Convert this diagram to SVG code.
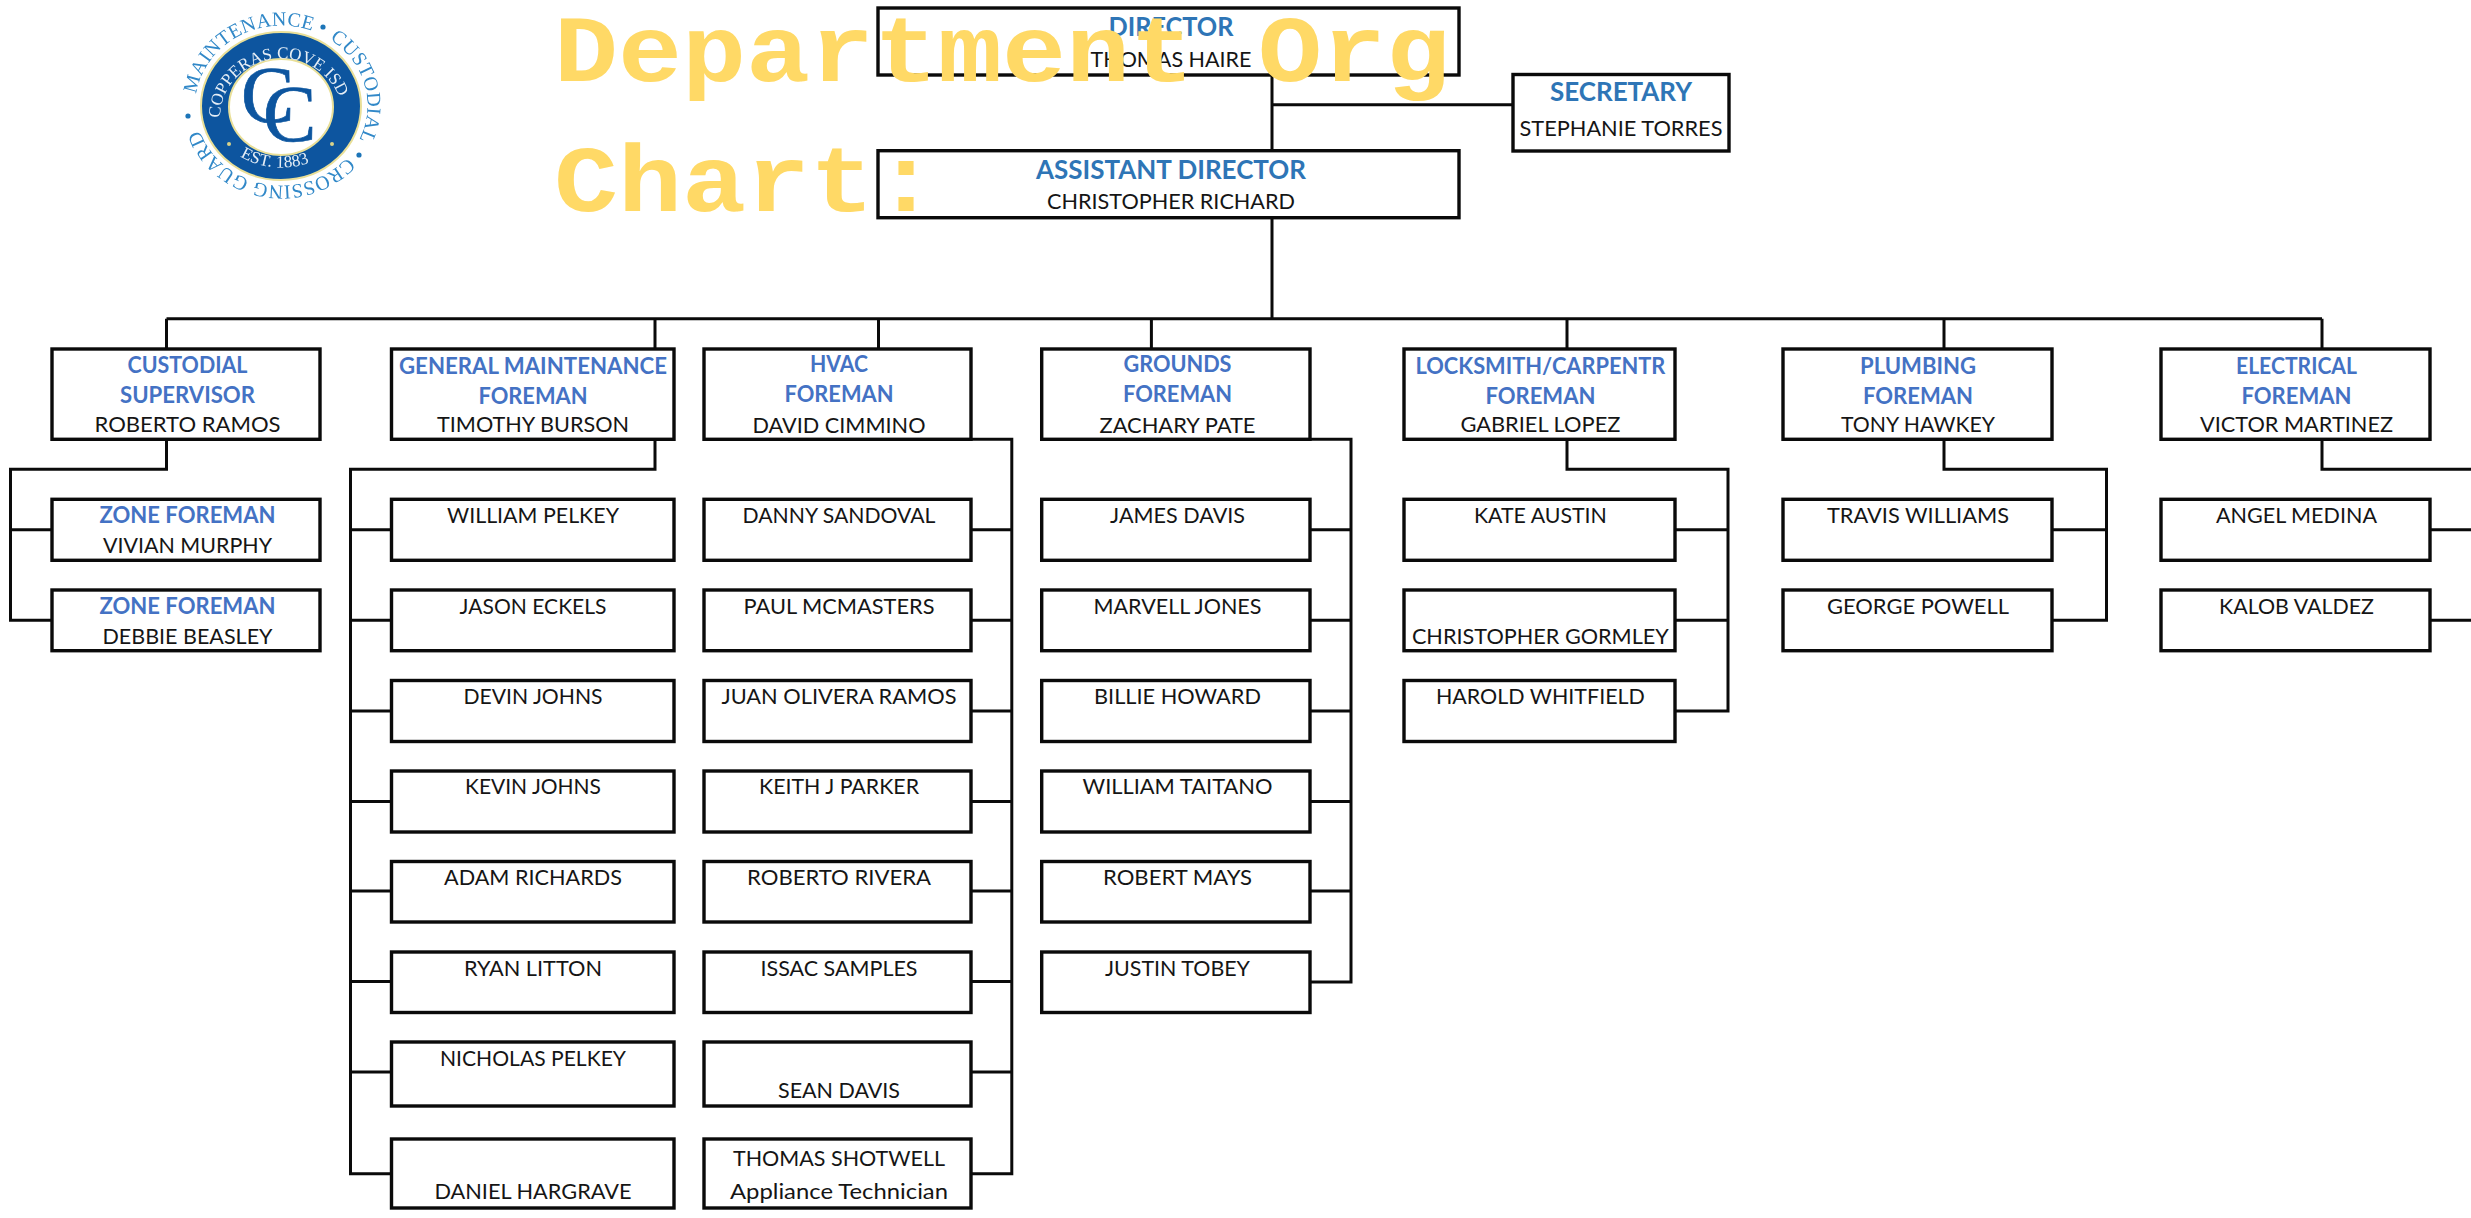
<svg xmlns="http://www.w3.org/2000/svg" width="2471" height="1218" viewBox="0 0 2471 1218">
<style>
text{font-family:"Lato","Open Sans","Liberation Sans",sans-serif;text-anchor:middle}
rect{fill:#fff;stroke:#0a0a0a;stroke-width:3.4}
#connectors path{fill:none;stroke:#0a0a0a;stroke-width:3}
.n{font-size:22px;fill:#151515}
.h{font-size:22px;font-weight:700;fill:#4472C4}
.t{font-size:26px;font-weight:700;fill:#2E75B6}
.title{font-family:"Liberation Mono","Courier New",monospace;font-size:94px;font-weight:700;fill:#FFD966;text-anchor:start}
.lo{font-family:"Liberation Serif",serif;font-size:20px;fill:#3088C8;text-anchor:start;letter-spacing:0.3px}
.li{font-family:"Liberation Serif",serif;font-size:17px;fill:#E6EEF6;text-anchor:start}
.cc{font-family:"Liberation Serif",serif;font-size:80px;fill:#0B559F;stroke:#0B559F;stroke-width:0.7;text-anchor:start}
</style>
<defs>
<path id="outerArc" pathLength="360" d="M195.5 105.5A86 80 0 1 1 367.5 105.5A86 80 0 1 1 195.5 105.5"/>
<path id="innerArc" d="M220 118A60 58 0 1 1 343 118"/>
<path id="bottomArc" d="M229 148A72 62 0 0 0 334 148"/>
<filter id="soft" x="-5%" y="-5%" width="110%" height="110%"><feGaussianBlur stdDeviation="0.55"/></filter>
</defs>
<rect x="0" y="0" width="2471" height="1218" style="fill:#fff;stroke:none"/>
<g id="logo" filter="url(#soft)">
<ellipse cx="281" cy="106" rx="80" ry="74" style="fill:#0B559F;stroke:#E9DF98;stroke-width:2"/>
<ellipse cx="281" cy="107" rx="52" ry="48" style="fill:#fff;stroke:#E9DF98;stroke-width:2"/>
<text class="lo"><textPath href="#outerArc" startOffset="8">MAINTENANCE</textPath></text>
<text class="lo"><textPath href="#outerArc" startOffset="125">CUSTODIAL</textPath></text>
<text class="lo"><textPath href="#outerArc" startOffset="219">CROSSING GUARD</textPath></text>
<circle cx="323" cy="27" r="2.6" fill="#1F75B8"/>
<circle cx="359" cy="155" r="2.6" fill="#1F75B8"/>
<circle cx="188" cy="116" r="2.6" fill="#1F75B8"/>
<text class="li"><textPath href="#innerArc" startOffset="0">COPPERAS COVE ISD</textPath></text>
<text class="li"><textPath href="#bottomArc" startOffset="14">EST. 1883</textPath></text>
<circle cx="229" cy="144" r="2" fill="#D9D28A"/>
<circle cx="332" cy="144" r="2" fill="#D9D28A"/>
<text class="cc" x="241" y="122">C</text>
<text class="cc" x="263" y="141">C</text>
</g>
<g id="connectors">
<path d="M1272 75V150.7M1272 104.7H1513M1272 217.7V318.7M166.5 318.7H2322"/>
<path d="M166.5 318.7V349M655 318.7V349M878.5 318.7V349M1151.4 318.7V349M1567 318.7V349M1944 318.7V349M2322 318.7V349"/>
<path d="M166.5 439V469.3H10.5V620.3H52M10.5 529.7H52"/>
<path d="M655 439V469.3H350.5V1173.7H391.5M350.5 529.7H391.5M350.5 620.3H391.5M350.5 710.9H391.5M350.5 801.5H391.5M350.5 891H391.5M350.5 981.5H391.5M350.5 1072H391.5"/>
<path d="M971 439.3H1011.8V1173.7H971M971 529.7H1011.8M971 620.3H1011.8M971 710.9H1011.8M971 801.5H1011.8M971 891H1011.8M971 981.5H1011.8M971 1072H1011.8"/>
<path d="M1310 439.3H1351V982H1310M1310 529.7H1351M1310 620.3H1351M1310 710.9H1351M1310 801.5H1351M1310 891H1351"/>
<path d="M1567 439V469.3H1728V710.9H1675M1675 529.7H1728M1675 620.3H1728"/>
<path d="M1944 439V469.3H2106.5V620.3H2052M2052 529.7H2106.5"/>
<path d="M2322 439V469.3H2471M2430 529.7H2471M2430 620.3H2471"/>
</g>
<g id="director"><rect x="878" y="8" width="581" height="67"/><text class="t" x="1171" y="35.7" textLength="125" lengthAdjust="spacingAndGlyphs">DIRECTOR</text><text class="n" x="1171" y="66.7" textLength="161" lengthAdjust="spacingAndGlyphs">THOMAS HAIRE</text></g>
<g id="secretary"><rect x="1513" y="74.5" width="216" height="76.5"/><text class="t" x="1621" y="100.7" textLength="142" lengthAdjust="spacingAndGlyphs">SECRETARY</text><text class="n" x="1621" y="136" textLength="203" lengthAdjust="spacingAndGlyphs">STEPHANIE TORRES</text></g>
<g id="assistant-director"><rect x="878" y="150.7" width="581" height="67"/><text class="t" x="1171" y="178.7" textLength="270" lengthAdjust="spacingAndGlyphs">ASSISTANT DIRECTOR</text><text class="n" x="1171" y="209.3" textLength="248" lengthAdjust="spacingAndGlyphs">CHRISTOPHER RICHARD</text></g>
<g id="custodial-supervisor"><rect x="52" y="349" width="268" height="90.3"/><text class="h" x="187.5" y="373" textLength="120" lengthAdjust="spacingAndGlyphs">CUSTODIAL</text><text class="h" x="187.5" y="403" textLength="135" lengthAdjust="spacingAndGlyphs">SUPERVISOR</text><text class="n" x="187.5" y="432" textLength="186" lengthAdjust="spacingAndGlyphs">ROBERTO RAMOS</text></g>
<g id="zone-foreman-1"><rect x="52" y="499.3" width="268" height="61"/><text class="h" x="187.5" y="523.3" textLength="176" lengthAdjust="spacingAndGlyphs">ZONE FOREMAN</text><text class="n" x="187.5" y="553.3" textLength="169" lengthAdjust="spacingAndGlyphs">VIVIAN MURPHY</text></g>
<g id="zone-foreman-2"><rect x="52" y="590" width="268" height="60.7"/><text class="h" x="187.5" y="613.7" textLength="176" lengthAdjust="spacingAndGlyphs">ZONE FOREMAN</text><text class="n" x="187.5" y="644" textLength="170" lengthAdjust="spacingAndGlyphs">DEBBIE BEASLEY</text></g>
<g id="general-maintenance"><rect x="391.5" y="349" width="282.5" height="90.3"/><text class="h" x="533" y="374" textLength="268" lengthAdjust="spacingAndGlyphs">GENERAL MAINTENANCE</text><text class="h" x="533" y="404" textLength="109" lengthAdjust="spacingAndGlyphs">FOREMAN</text><text class="n" x="533" y="432" textLength="192" lengthAdjust="spacingAndGlyphs">TIMOTHY BURSON</text></g>
<g id="gm-1"><rect x="391.5" y="499.3" width="282.5" height="61"/><text class="n" x="533" y="523.3" textLength="172" lengthAdjust="spacingAndGlyphs">WILLIAM PELKEY</text></g>
<g id="gm-2"><rect x="391.5" y="590" width="282.5" height="60.7"/><text class="n" x="533" y="614" textLength="147" lengthAdjust="spacingAndGlyphs">JASON ECKELS</text></g>
<g id="gm-3"><rect x="391.5" y="680.5" width="282.5" height="61"/><text class="n" x="533" y="704" textLength="139" lengthAdjust="spacingAndGlyphs">DEVIN JOHNS</text></g>
<g id="gm-4"><rect x="391.5" y="771" width="282.5" height="61"/><text class="n" x="533" y="794.3" textLength="136" lengthAdjust="spacingAndGlyphs">KEVIN JOHNS</text></g>
<g id="gm-5"><rect x="391.5" y="861.5" width="282.5" height="60.5"/><text class="n" x="533" y="885" textLength="178" lengthAdjust="spacingAndGlyphs">ADAM RICHARDS</text></g>
<g id="gm-6"><rect x="391.5" y="952" width="282.5" height="60.5"/><text class="n" x="533" y="975.5" textLength="138" lengthAdjust="spacingAndGlyphs">RYAN LITTON</text></g>
<g id="gm-7"><rect x="391.5" y="1042" width="282.5" height="64"/><text class="n" x="533" y="1065.7" textLength="186" lengthAdjust="spacingAndGlyphs">NICHOLAS PELKEY</text></g>
<g id="gm-8"><rect x="391.5" y="1139" width="282.5" height="69"/><text class="n" x="533" y="1199" textLength="197" lengthAdjust="spacingAndGlyphs">DANIEL HARGRAVE</text></g>
<g id="hvac"><rect x="704" y="349" width="267" height="90.3"/><text class="h" x="839" y="372.3" textLength="58" lengthAdjust="spacingAndGlyphs">HVAC</text><text class="h" x="839" y="402.3" textLength="109" lengthAdjust="spacingAndGlyphs">FOREMAN</text><text class="n" x="839" y="432.7" textLength="173" lengthAdjust="spacingAndGlyphs">DAVID CIMMINO</text></g>
<g id="hvac-1"><rect x="704" y="499.3" width="267" height="61"/><text class="n" x="839" y="523.3" textLength="193" lengthAdjust="spacingAndGlyphs">DANNY SANDOVAL</text></g>
<g id="hvac-2"><rect x="704" y="590" width="267" height="60.7"/><text class="n" x="839" y="614" textLength="191" lengthAdjust="spacingAndGlyphs">PAUL MCMASTERS</text></g>
<g id="hvac-3"><rect x="704" y="680.5" width="267" height="61"/><text class="n" x="839" y="704" textLength="235" lengthAdjust="spacingAndGlyphs">JUAN OLIVERA RAMOS</text></g>
<g id="hvac-4"><rect x="704" y="771" width="267" height="61"/><text class="n" x="839" y="794.3" textLength="160" lengthAdjust="spacingAndGlyphs">KEITH J PARKER</text></g>
<g id="hvac-5"><rect x="704" y="861.5" width="267" height="60.5"/><text class="n" x="839" y="885" textLength="184" lengthAdjust="spacingAndGlyphs">ROBERTO RIVERA</text></g>
<g id="hvac-6"><rect x="704" y="952" width="267" height="60.5"/><text class="n" x="839" y="975.5" textLength="157" lengthAdjust="spacingAndGlyphs">ISSAC SAMPLES</text></g>
<g id="hvac-7"><rect x="704" y="1042" width="267" height="64"/><text class="n" x="839" y="1097.7" textLength="122" lengthAdjust="spacingAndGlyphs">SEAN DAVIS</text></g>
<g id="hvac-8"><rect x="704" y="1139" width="267" height="69"/><text class="n" x="839" y="1165.7" textLength="212" lengthAdjust="spacingAndGlyphs">THOMAS SHOTWELL</text><text class="n" x="839" y="1199" textLength="218" lengthAdjust="spacingAndGlyphs">Appliance Technician</text></g>
<g id="grounds"><rect x="1041.7" y="349" width="268.3" height="90.3"/><text class="h" x="1177.5" y="372.3" textLength="108" lengthAdjust="spacingAndGlyphs">GROUNDS</text><text class="h" x="1177.5" y="402.3" textLength="109" lengthAdjust="spacingAndGlyphs">FOREMAN</text><text class="n" x="1177.5" y="432.7" textLength="156" lengthAdjust="spacingAndGlyphs">ZACHARY PATE</text></g>
<g id="grounds-1"><rect x="1041.7" y="499.3" width="268.3" height="61"/><text class="n" x="1177.5" y="523.3" textLength="135" lengthAdjust="spacingAndGlyphs">JAMES DAVIS</text></g>
<g id="grounds-2"><rect x="1041.7" y="590" width="268.3" height="60.7"/><text class="n" x="1177.5" y="614" textLength="168" lengthAdjust="spacingAndGlyphs">MARVELL JONES</text></g>
<g id="grounds-3"><rect x="1041.7" y="680.5" width="268.3" height="61"/><text class="n" x="1177.5" y="704" textLength="167" lengthAdjust="spacingAndGlyphs">BILLIE HOWARD</text></g>
<g id="grounds-4"><rect x="1041.7" y="771" width="268.3" height="61"/><text class="n" x="1177.5" y="794.3" textLength="190" lengthAdjust="spacingAndGlyphs">WILLIAM TAITANO</text></g>
<g id="grounds-5"><rect x="1041.7" y="861.5" width="268.3" height="60.5"/><text class="n" x="1177.5" y="885" textLength="149" lengthAdjust="spacingAndGlyphs">ROBERT MAYS</text></g>
<g id="grounds-6"><rect x="1041.7" y="952" width="268.3" height="60.5"/><text class="n" x="1177.5" y="975.5" textLength="145" lengthAdjust="spacingAndGlyphs">JUSTIN TOBEY</text></g>
<g id="locksmith"><rect x="1404" y="349" width="271" height="90.3"/><text class="h" x="1540.4" y="374" textLength="250" lengthAdjust="spacingAndGlyphs">LOCKSMITH/CARPENTR</text><text class="h" x="1540.4" y="404" textLength="110" lengthAdjust="spacingAndGlyphs">FOREMAN</text><text class="n" x="1540.4" y="432" textLength="160" lengthAdjust="spacingAndGlyphs">GABRIEL LOPEZ</text></g>
<g id="locksmith-1"><rect x="1404" y="499.3" width="271" height="61"/><text class="n" x="1540.4" y="523.3" textLength="133" lengthAdjust="spacingAndGlyphs">KATE AUSTIN</text></g>
<g id="locksmith-2"><rect x="1404" y="590" width="271" height="60.7"/><text class="n" x="1540.4" y="644" textLength="257" lengthAdjust="spacingAndGlyphs">CHRISTOPHER GORMLEY</text></g>
<g id="locksmith-3"><rect x="1404" y="680.5" width="271" height="61"/><text class="n" x="1540.4" y="704" textLength="209" lengthAdjust="spacingAndGlyphs">HAROLD WHITFIELD</text></g>
<g id="plumbing"><rect x="1783" y="349" width="269" height="90.3"/><text class="h" x="1918" y="374" textLength="116" lengthAdjust="spacingAndGlyphs">PLUMBING</text><text class="h" x="1918" y="404" textLength="110" lengthAdjust="spacingAndGlyphs">FOREMAN</text><text class="n" x="1918" y="432" textLength="154" lengthAdjust="spacingAndGlyphs">TONY HAWKEY</text></g>
<g id="plumbing-1"><rect x="1783" y="499.3" width="269" height="61"/><text class="n" x="1918" y="523.3" textLength="182" lengthAdjust="spacingAndGlyphs">TRAVIS WILLIAMS</text></g>
<g id="plumbing-2"><rect x="1783" y="590" width="269" height="60.7"/><text class="n" x="1918" y="614" textLength="182" lengthAdjust="spacingAndGlyphs">GEORGE POWELL</text></g>
<g id="electrical"><rect x="2161" y="349" width="269" height="90.3"/><text class="h" x="2296.5" y="374" textLength="121" lengthAdjust="spacingAndGlyphs">ELECTRICAL</text><text class="h" x="2296.5" y="404" textLength="110" lengthAdjust="spacingAndGlyphs">FOREMAN</text><text class="n" x="2296.5" y="432" textLength="193" lengthAdjust="spacingAndGlyphs">VICTOR MARTINEZ</text></g>
<g id="electrical-1"><rect x="2161" y="499.3" width="269" height="61"/><text class="n" x="2296.5" y="523.3" textLength="161" lengthAdjust="spacingAndGlyphs">ANGEL MEDINA</text></g>
<g id="electrical-2"><rect x="2161" y="590" width="269" height="60.7"/><text class="n" x="2296.5" y="614" textLength="155" lengthAdjust="spacingAndGlyphs">KALOB VALDEZ</text></g>
<g id="title"><text class="title" x="554" y="81" textLength="896" lengthAdjust="spacingAndGlyphs">Department Org</text><text class="title" x="554" y="211" textLength="384" lengthAdjust="spacingAndGlyphs">Chart:</text></g>
</svg>
